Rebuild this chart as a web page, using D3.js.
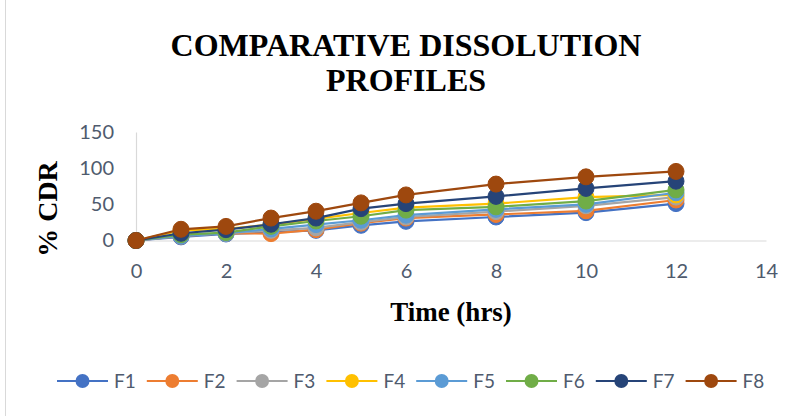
<!DOCTYPE html>
<html>
<head>
<meta charset="utf-8">
<script src="https://cdn.jsdelivr.net/npm/d3@7"></script>
<style>
  body { margin: 0; background: #fff; }
  svg { display: block; }
</style>
</head>
<body>
<svg id="chart" width="800" height="416"></svg>
<script>
// time points (hrs)
const times = [0, 1, 2, 3, 4, 5, 6, 8, 10, 12];

// % CDR per formulation
const f1 = [0, 5, 9, 11.5, 14, 21, 26.5, 32.5, 38.5, 51];
const f2 = [0, 6, 10, 9.5, 15, 24, 31, 36, 41, 56];
const f3 = [0, 7, 10, 14, 17.5, 25.5, 32.5, 40, 48, 60];
const f4 = [0, 14, 16, 22, 30, 38, 45.5, 51, 60, 63];
const f5 = [0, 6, 10, 16, 22, 28, 35, 43, 50, 66];
const f6 = [0, 8, 11, 19.5, 27, 33.5, 42, 46.5, 54.5, 70];
const f7 = [0, 10, 15, 22.5, 31, 44, 51, 61, 72, 82];
const f8 = [0, 15.5, 19.5, 31, 40.5, 52, 63, 78, 88, 95.5];

const seriesNames = ['F1', 'F2', 'F3', 'F4', 'F5', 'F6', 'F7', 'F8'];
const seriesValues = [f1, f2, f3, f4, f5, f6, f7, f8];
const colors = ['#4472C4', '#ED7D31', '#A5A5A5', '#FFC000', '#5B9BD5', '#70AD47', '#264478', '#9E480E'];

const xTicks = [0, 2, 4, 6, 8, 10, 12, 14];
const yTicks = [0, 50, 100, 150];

const svg = d3.select('#chart');

// outer chart border (only the left edge shows in the crop)
svg.append('line')
    .attr('x1', 5.5).attr('x2', 5.5)
    .attr('y1', 0).attr('y2', 416)
    .attr('stroke', '#d9d9d9');

// scales
const x = d3.scaleLinear().domain([0, 14]).range([136, 766]);
const y = d3.scaleLinear().domain([0, 150]).range([240.5, 132]);

const tickFont = 'Lato, "Noto Sans", sans-serif';
const tickColor = '#4f5b6e';
const serif = '"Liberation Serif", "Times New Roman", serif';

// title
const title = svg.append('text')
    .attr('text-anchor', 'middle')
    .style('font-family', serif)
    .style('font-weight', 'bold')
    .style('font-size', '32px')
    .attr('fill', '#000');
title.append('tspan').attr('x', 406).attr('y', 56).text('COMPARATIVE DISSOLUTION');
title.append('tspan').attr('x', 406).attr('y', 91).text('PROFILES');

// x axis
const xAxis = svg.append('g')
    .attr('transform', `translate(0,${y(0)})`)
    .call(d3.axisBottom(x).tickValues(xTicks).tickSize(0).tickPadding(23));
xAxis.select('.domain').attr('stroke', '#d9d9d9').attr('stroke-width', 1.2);
xAxis.selectAll('text')
    .style('font-family', tickFont)
    .style('font-size', '20px')
    .attr('fill', tickColor);

// y axis
const yAxis = svg.append('g')
    .attr('transform', `translate(${x(0)},0)`)
    .call(d3.axisLeft(y).tickValues(yTicks).tickSize(0).tickPadding(22));
yAxis.select('.domain').attr('stroke', '#d9d9d9').attr('stroke-width', 1.2);
yAxis.selectAll('text')
    .style('font-family', tickFont)
    .style('font-size', '20px')
    .attr('fill', tickColor);

// axis titles
svg.append('text')
    .attr('x', 451).attr('y', 321)
    .attr('text-anchor', 'middle')
    .style('font-family', serif)
    .style('font-weight', 'bold')
    .style('font-size', '27px')
    .text('Time (hrs)');

svg.append('text')
    .attr('transform', 'translate(57,209) rotate(-90)')
    .attr('text-anchor', 'middle')
    .style('font-family', serif)
    .style('font-weight', 'bold')
    .style('font-size', '28px')
    .text('% CDR');

// series: line + markers, drawn in order so F8 ends on top
const line = d3.line()
    .x((d, i) => x(times[i]))
    .y(d => y(d));

seriesValues.forEach((vals, s) => {
    const g = svg.append('g');
    g.append('path')
        .datum(vals)
        .attr('d', line)
        .attr('fill', 'none')
        .attr('stroke', colors[s])
        .attr('stroke-width', 2.2);
    g.selectAll('circle')
        .data(vals)
        .enter()
        .append('circle')
        .attr('cx', (d, i) => x(times[i]))
        .attr('cy', d => y(d))
        .attr('r', 8)
        .attr('fill', colors[s])
        .attr('stroke', colors[s]);
});

// legend
const legend = svg.append('g').attr('transform', 'translate(57,381)');
seriesNames.forEach((name, i) => {
    const item = legend.append('g').attr('transform', `translate(${i * 89.8},0)`);
    item.append('line')
        .attr('x1', 0).attr('x2', 51)
        .attr('y1', 0).attr('y2', 0)
        .attr('stroke', colors[i])
        .attr('stroke-width', 2);
    item.append('circle')
        .attr('cx', 25.5).attr('cy', 0)
        .attr('r', 7)
        .attr('fill', colors[i]);
    item.append('text')
        .attr('x', 57).attr('y', 7)
        .style('font-family', tickFont)
        .style('font-size', '19px')
        .attr('fill', tickColor)
        .text(name);
});
</script>
</body>
</html>
